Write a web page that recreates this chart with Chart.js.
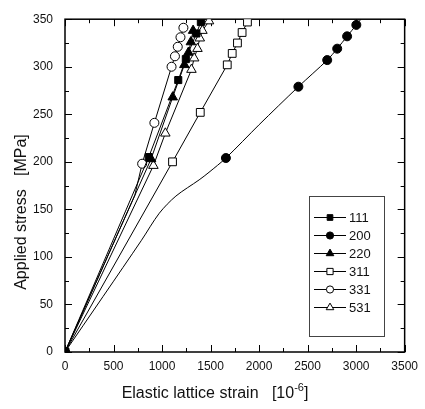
<!DOCTYPE html>
<html>
<head>
<meta charset="utf-8">
<script src="https://cdn.jsdelivr.net/npm/chart.js@4.4.1/dist/chart.umd.min.js"></script>
<style>
html, body { margin: 0; padding: 0; background: #fff; }
#wrap { width: 425px; height: 409px; }
</style>
</head>
<body>
<div id="wrap"><canvas id="chart"></canvas></div>
<script>
// Lattice strain (10^-6) vs applied stress (MPa), one pair of arrays per reflection
const labels = ['111', '200', '220', '311', '331', '531'];

const strain111 = [0, 863, 1167, 1245, 1354, 1400];
const stress111 = [0, 205, 286, 308, 335, 347];
const mark111   = [1, 1, 1, 1, 1, 1];

const strain200 = [0, 785, 972, 1143, 1382, 1484, 1658, 2000, 2405, 2702, 2805, 2907, 3002, 3065];
const stress200 = [0, 117, 146, 164, 181, 189, 204, 239, 279, 307, 319, 332, 344, 352];
const mark200   = [1, 0, 0, 0, 0, 0, 1, 0, 1, 1, 1, 1, 1, 0];

const strain220 = [0, 887, 1110, 1230, 1272, 1297, 1320];
const stress220 = [0, 203, 268, 302, 315, 326, 338];
const mark220   = [1, 1, 1, 1, 1, 1, 1];

const strain311 = [0, 1108, 1394, 1672, 1723, 1777, 1825, 1880];
const stress311 = [0, 200, 252, 302, 314, 325, 336, 347];
const mark311   = [1, 1, 1, 1, 1, 1, 1, 1];

const strain331 = [0, 720, 795, 921, 1098, 1133, 1162, 1190, 1220];
const stress331 = [0, 165, 198, 241, 300, 311, 321, 331, 341];
const mark331   = [1, 0, 1, 1, 1, 1, 1, 1, 1];

const strain531 = [0, 911, 1034, 1303, 1331, 1365, 1389, 1416, 1484];
const stress531 = [0, 196, 230, 297, 309, 319, 330, 338, 348];
const mark531   = [1, 1, 1, 1, 1, 1, 1, 1, 1];

const xTicks = [0, 500, 1000, 1500, 2000, 2500, 3000, 3500];
const yTicks = [0, 50, 100, 150, 200, 250, 300, 350];

const FONT = 'Liberation Sans, Arial, sans-serif';

function series(label, xs, ys, marks, style, filled, r, tension) {
    return {
        label: label,
        data: xs.map((x, i) => ({ x: x, y: ys[i] })),
        showLine: true,
        borderColor: '#000',
        borderWidth: 1,
        tension: tension || 0,
        pointStyle: style,
        pointRadius: marks.map(m => m ? r : 0),
        pointHoverRadius: 0,
        pointBorderWidth: 1,
        pointBorderColor: '#000',
        pointBackgroundColor: filled ? '#000' : '#fff'
    };
}

const datasets = [
    series(labels[0], strain111, stress111, mark111, 'rect', true, 5),
    series(labels[1], strain200, stress200, mark200, 'circle', true, 4.5, 0.3),
    series(labels[2], strain220, stress220, mark220, 'triangle', true, 5.5),
    series(labels[3], strain311, stress311, mark311, 'rect', false, 5.5),
    series(labels[4], strain331, stress331, mark331, 'circle', false, 4.5),
    series(labels[5], strain531, stress531, mark531, 'triangle', false, 5.5)
];

// frame, inward ticks, legend box and axis titles
const decor = {
    id: 'decor',
    beforeDatasetsDraw(chart) {
        const ctx = chart.ctx;
        const a = chart.chartArea;
        const xs = chart.scales.x, ys = chart.scales.y;
        ctx.save();
        ctx.strokeStyle = '#000';
        ctx.lineWidth = 1;
        ctx.beginPath();
        for (let v = 0; v <= 3500; v += 250) {
            const px = Math.round(xs.getPixelForValue(v)) + 0.5;
            const len = v % 500 === 0 ? 7 : 4;
            ctx.moveTo(px, a.bottom); ctx.lineTo(px, a.bottom - len);
            ctx.moveTo(px, a.top); ctx.lineTo(px, a.top + len);
        }
        for (let v = 0; v <= 350; v += 25) {
            const py = Math.round(ys.getPixelForValue(v)) + 0.5;
            const len = v % 50 === 0 ? 7 : 4;
            ctx.moveTo(a.left, py); ctx.lineTo(a.left + len, py);
            ctx.moveTo(a.right, py); ctx.lineTo(a.right - len, py);
        }
        ctx.stroke();
        ctx.lineWidth = 1.5;
        ctx.strokeRect(a.left, a.top, a.right - a.left, a.bottom - a.top);
        ctx.restore();
    },
    afterDraw(chart) {
        const ctx = chart.ctx;
        ctx.save();
        // legend
        ctx.strokeStyle = '#444';
        ctx.lineWidth = 1;
        ctx.strokeRect(309.5, 196.5, 75, 140);
        ctx.font = '13px ' + FONT;
        ctx.textBaseline = 'middle';
        ctx.textAlign = 'left';
        chart.data.datasets.forEach((ds, i) => {
            const y = 217 + i * 18;
            ctx.strokeStyle = '#000';
            ctx.lineWidth = 1;
            ctx.beginPath();
            ctx.moveTo(314, y + 0.5); ctx.lineTo(346, y + 0.5);
            ctx.stroke();
            ctx.fillStyle = ds.pointBackgroundColor;
            ctx.strokeStyle = '#000';
            const r = Math.max(...ds.pointRadius) * 0.8;
            Chart.helpers.drawPoint(ctx, { pointStyle: ds.pointStyle, radius: r, rotation: 0, borderWidth: 1 }, 330, y + 0.5);
            ctx.fillStyle = '#111';
            ctx.fillText(ds.label, 349, y + 1);
        });
        // axis titles
        ctx.fillStyle = '#111';
        ctx.font = '16px ' + FONT;
        ctx.textAlign = 'center';
        ctx.save();
        ctx.translate(22, 212);
        ctx.rotate(-Math.PI / 2);
        ctx.fillText('Applied stress   [MPa]', 0, 0);
        ctx.restore();
        const main = 'Elastic lattice strain   [10';
        ctx.textAlign = 'left';
        const w1 = ctx.measureText(main).width;
        ctx.font = '11px ' + FONT;
        const w2 = ctx.measureText('-6').width;
        ctx.font = '16px ' + FONT;
        const w3 = ctx.measureText(']').width;
        let x0 = 215 - (w1 + w2 + w3) / 2;
        ctx.fillText(main, x0, 394);
        ctx.font = '11px ' + FONT;
        ctx.fillText('-6', x0 + w1, 388);
        ctx.font = '16px ' + FONT;
        ctx.fillText(']', x0 + w1 + w2, 394);
        ctx.restore();
    }
};

new Chart(document.getElementById('chart'), {
    type: 'scatter',
    data: { datasets: datasets },
    options: {
        responsive: true,
        maintainAspectRatio: false,
        animation: false,
        events: [],
        layout: { padding: { left: 0, right: 18, top: 12, bottom: 0 } },
        plugins: { legend: { display: false }, tooltip: { enabled: false } },
        scales: {
            x: {
                type: 'linear',
                min: 0, max: 3500,
                afterBuildTicks: s => { s.ticks = xTicks.map(v => ({ value: v })); },
                afterFit: s => { s.height = 57; },
                grid: { display: false, drawTicks: false },
                border: { display: false },
                ticks: { padding: 7, color: '#111', font: { family: FONT, size: 12 }, maxRotation: 0, callback: v => String(v) }
            },
            y: {
                type: 'linear',
                min: 0, max: 350,
                afterBuildTicks: s => { s.ticks = yTicks.map(v => ({ value: v })); },
                afterFit: s => { s.width = 65; },
                grid: { display: false, drawTicks: false },
                border: { display: false },
                ticks: { padding: 12, color: '#111', font: { family: FONT, size: 12 }, callback: v => String(v) }
            }
        }
    },
    plugins: [decor]
});
</script>
</body>
</html>
